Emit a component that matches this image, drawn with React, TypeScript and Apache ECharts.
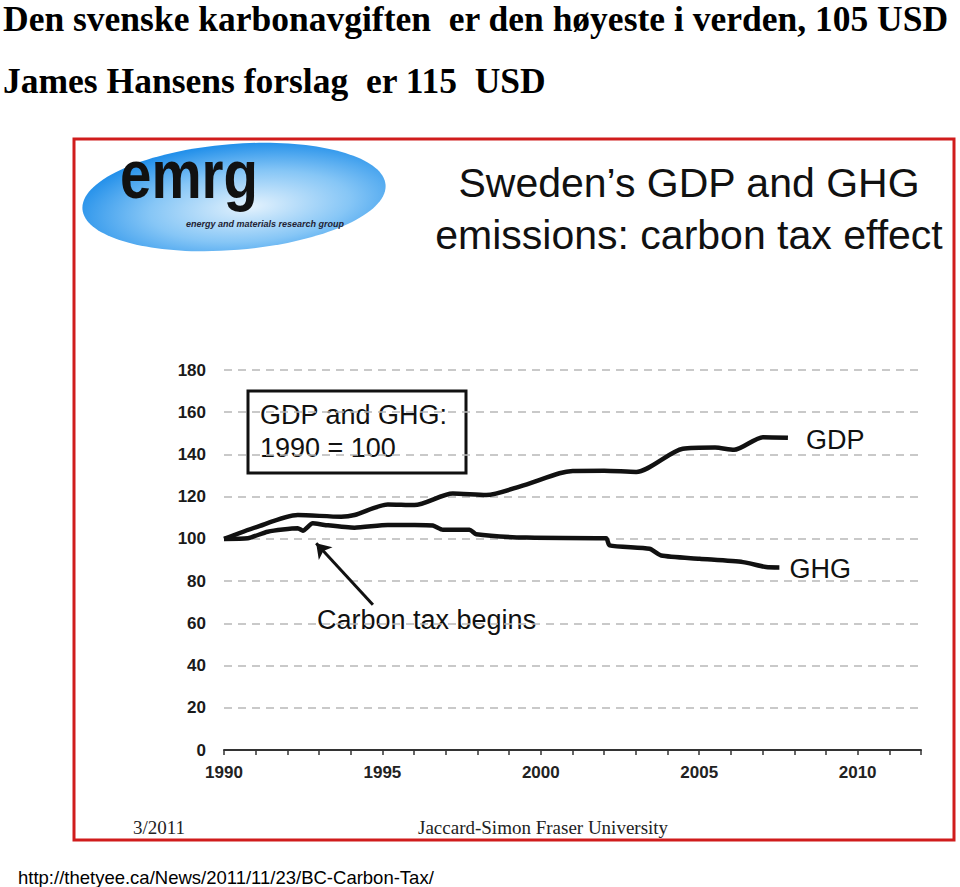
import React, { useEffect, useRef } from "react";
import * as echarts from "echarts";

// ---- data ----
const headline1 = "Den svenske karbonavgiften  er den høyeste i verden, 105 USD";
const headline2 = "James Hansens forslag  er 115  USD";
const chartTitle1 = "Sweden’s GDP and GHG";
const chartTitle2 = "emissions: carbon tax effect";
const boxLine1 = "GDP and GHG:";
const boxLine2 = "1990 = 100";
const arrowText = "Carbon tax begins";
const footerLeft = "3/2011";
const footerRight = "Jaccard-Simon Fraser University";
const sourceUrl = "http://thetyee.ca/News/2011/11/23/BC-Carbon-Tax/";
const logoText = "emrg";
const logoSub = "energy and materials research group";

const gdpYears = [1990, 1991, 1992.33, 1993.7, 1994.12, 1995.17, 1996.01, 1997.22, 1998.28, 1999.33, 2000.59, 2001.01, 2002.0, 2003.01, 2004.48, 2005.5, 2006.1, 2007.01, 2007.8];
const gdpValues = [100, 105.5, 111.3, 110.5, 111.3, 116.3, 116, 121.5, 120.8, 124.8, 131.1, 132.2, 132.3, 131.7, 142.7, 143.3, 142.2, 148.2, 147.9];

const ghgYears = [1990, 1990.75, 1991.38, 1992.33, 1992.49, 1992.8, 1993.17, 1994.12, 1995.17, 1996.01, 1996.59, 1996.91, 1997.75, 1997.96, 1999.54, 2002.06, 2002.17, 2003.43, 2003.8, 2005.01, 2006.38, 2007.11, 2007.53];
const ghgValues = [100, 100.3, 103.4, 105, 103.9, 107.4, 106.6, 105.3, 106.6, 106.6, 106.3, 104.3, 104.3, 102.2, 100.6, 100.3, 96.9, 95.3, 92.1, 90.6, 89, 86.7, 86.5];

const arrowFrom = [1994.7, 68.8];
const arrowTo = [1992.91, 97.9];

const xMin = 1990;
const xMax = 2012;
const yMax = 180;
const yStep = 20;

const SANS = "'Liberation Sans', Arial, Helvetica, sans-serif";
const SERIF = "'Liberation Serif', 'Times New Roman', serif";

export default function App() {
  const ref = useRef<HTMLDivElement>(null);
  useEffect(() => {
    const chart = echarts.init(ref.current!, null, { renderer: "svg" });
    const txt = (text: string, x: number, y: number, size: number, opts: any = {}) => ({
      type: "text",
      x,
      y,
      scaleX: opts.scaleX ?? 1,
      rotation: opts.rotation ?? 0,
      style: {
        text,
        fill: opts.color ?? "#111",
        fontSize: size,
        fontFamily: opts.family ?? SANS,
        fontWeight: opts.weight ?? "normal",
        fontStyle: opts.style ?? "normal",
        align: opts.align ?? "left",
        verticalAlign: "middle",
      },
    });
    const option: any = {
      animation: false,
      backgroundColor: "#ffffff",
      grid: { left: 224, right: 39, top: 370, bottom: 137 },
      xAxis: {
        type: "value",
        min: xMin,
        max: xMax,
        interval: 1,
        axisLine: { lineStyle: { color: "#333", width: 2 } },
        axisTick: { show: true, length: 5, lineStyle: { color: "#333", width: 1.5 } },
        axisLabel: {
          formatter: (v: number) => (v % 5 === 0 ? String(v) : ""),
          fontSize: 17,
          fontWeight: "bold",
          color: "#222",
          fontFamily: SANS,
          margin: 14,
        },
        splitLine: { show: false },
      },
      yAxis: {
        type: "value",
        min: 0,
        max: yMax,
        interval: yStep,
        axisLine: { show: false },
        axisTick: { show: false },
        axisLabel: { fontSize: 17, fontWeight: "bold", color: "#1a1a1a", fontFamily: SANS, margin: 18 },
        splitLine: { lineStyle: { type: [8, 6], color: "#b8b8b8", width: 1.5 } },
      },
      series: [
        {
          name: "GDP",
          type: "line",
          data: gdpYears.map((y, i) => [y, gdpValues[i]]),
          showSymbol: false,
          smooth: 0.25,
          lineStyle: { color: "#111", width: 4.5 },
          endLabel: {
            show: true,
            formatter: "{a}",
            fontSize: 27,
            color: "#111",
            fontFamily: SANS,
            distance: 18,
            offset: [0, 2],
          },
        },
        {
          name: "GHG",
          type: "line",
          data: ghgYears.map((y, i) => [y, ghgValues[i]]),
          showSymbol: false,
          smooth: 0.2,
          lineStyle: { color: "#111", width: 4.5 },
          endLabel: {
            show: true,
            formatter: "{a}",
            fontSize: 27,
            color: "#111",
            fontFamily: SANS,
            distance: 10,
            offset: [0, 2],
          },
          markLine: {
            silent: true,
            symbol: ["none", "arrow"],
            symbolSize: 14,
            label: { show: false },
            lineStyle: { color: "#111", width: 3, type: "solid" },
            data: [[{ coord: arrowFrom }, { coord: arrowTo }]],
          },
        },
      ],
      graphic: [
        txt(headline1, 3, 19, 35.5, { family: SERIF, weight: "bold", color: "#000" }),
        txt(headline2, 3, 81, 35.5, { family: SERIF, weight: "bold", color: "#000" }),
        {
          type: "rect",
          shape: { x: 74, y: 139, width: 880, height: 701 },
          style: { fill: "none", stroke: "#d01c1c", lineWidth: 3 },
        },
        {
          type: "ellipse",
          x: 234,
          y: 197,
          rotation: 0.08,
          shape: { cx: 0, cy: 0, rx: 152, ry: 53 },
          style: {
            fill: new echarts.graphic.RadialGradient(0.55, 0.6, 0.6, [
              { offset: 0, color: "#e4f2fd" },
              { offset: 0.55, color: "#86c6f6" },
              { offset: 1, color: "#2390ea" },
            ]),
          },
        },
        txt(logoText, 120, 174, 68, { weight: 900, scaleX: 0.83, color: "#111" }),
        txt(logoSub, 186, 224, 9, { weight: "bold", style: "italic", color: "#223" }),
        txt(chartTitle1, 689, 183, 41, { align: "center" }),
        txt(chartTitle2, 689, 235, 41, { align: "center" }),
        {
          type: "rect",
          shape: { x: 248, y: 391, width: 218, height: 82 },
          style: { fill: "none", stroke: "#111", lineWidth: 3 },
        },
        txt(boxLine1, 260, 415, 27),
        txt(boxLine2, 260, 448, 27),
        txt(arrowText, 317, 620, 27),
        txt(footerLeft, 133, 827, 19, { family: SERIF, color: "#222" }),
        txt(footerRight, 418, 827, 19, { family: SERIF, color: "#222" }),
        txt(sourceUrl, 18, 877, 18.5, { color: "#000" }),
      ],
    };
    chart.setOption(option);
    return () => chart.dispose();
  }, []);
  return (
    <div
      ref={ref}
      style={{ position: "absolute", left: 0, top: 0, width: 960, height: 887 }}
    />
  );
}
